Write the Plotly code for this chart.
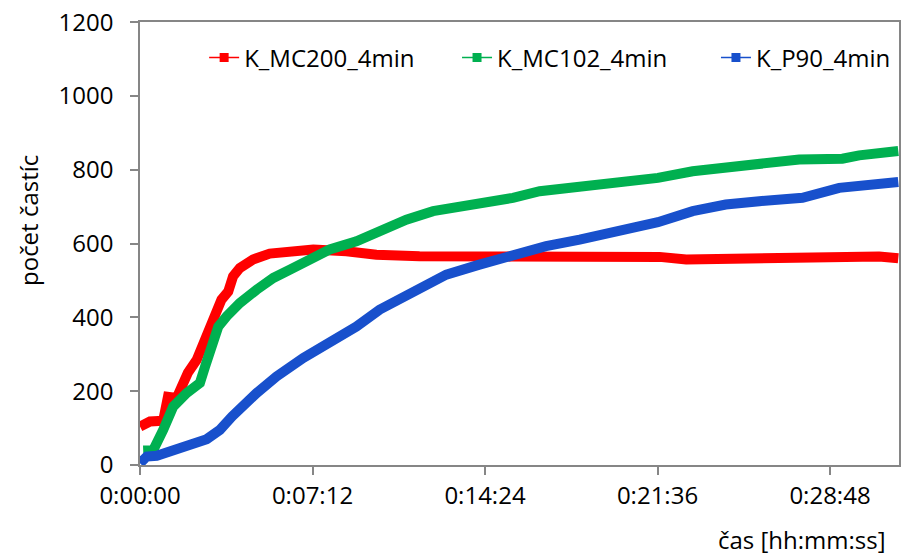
import plotly.graph_objects as go

# time in seconds
mc200_t = [0, 25, 58, 70, 92, 120, 142, 167, 188, 204, 221, 233, 250, 283, 325, 375, 434, 517, 592, 700, 858, 1051, 1200, 1301, 1368, 1451, 1551, 1651, 1751, 1851, 1899]
mc200_v = [104, 118, 120, 185, 182, 250, 285, 348, 412, 448, 470, 511, 534, 557, 573, 579, 584, 579, 570, 566, 564, 567, 566, 564, 557, 559, 560, 562, 563, 565, 560]

mc102_t = [8, 33, 58, 83, 117, 150, 163, 179, 196, 217, 250, 292, 334, 375, 425, 475, 542, 592, 667, 734, 850, 934, 1001, 1101, 1184, 1297, 1384, 1493, 1551, 1651, 1759, 1801, 1899]
mc102_v = [39, 40, 95, 158, 195, 222, 267, 330, 375, 403, 439, 475, 507, 529, 557, 584, 606, 629, 665, 688, 706, 724, 742, 754, 760, 778, 796, 810, 819, 828, 830, 839, 851]

p90_t = [0, 17, 42, 100, 167, 200, 230, 292, 342, 409, 475, 542, 600, 684, 767, 850, 934, 1017, 1101, 1184, 1297, 1384, 1467, 1551, 1659, 1751, 1834, 1899]
p90_v = [5, 23, 25, 45, 70, 95, 131, 195, 240, 290, 330, 375, 421, 466, 516, 543, 570, 593, 611, 629, 658, 688, 706, 715, 724, 751, 763, 767]

x_tickvals = [0, 432, 864, 1296, 1728]
x_ticktext = ["0:00:00", "0:07:12", "0:14:24", "0:21:36", "0:28:48"]
y_tickvals = [0, 200, 400, 600, 800, 1000, 1200]

series = [
    ("K_MC200_4min", mc200_t, mc200_v, "#FF0000", "legend", 0.0845, "left"),
    ("K_MC102_4min", mc102_t, mc102_v, "#00B050", "legend2", 0.4177, "left"),
    ("K_P90_4min", p90_t, p90_v, "#1850CC", "legend3", 0.996, "right"),
]

FONT = "Open Sans"
FS = 24
fig = go.Figure()
for name, t, v, c, lg, lx, la in series:
    fig.add_trace(go.Scatter(x=t, y=v, mode="lines", line=dict(color=c, width=10),
                             showlegend=False, hoverinfo="skip"))
for name, t, v, c, lg, lx, la in series:
    fig.add_trace(go.Scatter(x=[None], y=[None], mode="lines+markers", name=name,
                             legend=lg,
                             line=dict(color=c, width=1.5),
                             marker=dict(symbol="square", size=9, color=c)))

legend_common = dict(orientation="h", y=0.919, yanchor="middle",
                     font=dict(size=FS), bgcolor="rgba(0,0,0,0)")
fig.update_layout(
    width=901, height=558,
    margin=dict(l=140, r=2, t=22, b=93),
    paper_bgcolor="white", plot_bgcolor="white",
    font=dict(family=FONT, size=FS, color="#000000"),
    legend=dict(x=series[0][5], xanchor=series[0][6], **legend_common),
    legend2=dict(x=series[1][5], xanchor=series[1][6], **legend_common),
    legend3=dict(x=series[2][5], xanchor=series[2][6], **legend_common),
    xaxis=dict(range=[0, 1900.8], tickvals=x_tickvals, ticktext=x_ticktext,
               showgrid=False, zeroline=False, showline=True, linecolor="#868686",
               linewidth=1.5, mirror=True, ticks="outside", ticklen=8, tickcolor="#868686",
               tickwidth=1.5, tickfont=dict(size=FS), automargin=False),
    yaxis=dict(range=[0, 1200.5], tickvals=y_tickvals, showgrid=False, zeroline=False,
               showline=True, linecolor="#868686", linewidth=1.5, mirror=True,
               ticks="outside", ticklen=8, tickcolor="#868686", tickwidth=1.5,
               tickfont=dict(size=FS), ticklabelstandoff=12, automargin=False),
    annotations=[
        dict(text="počet častíc", xref="paper", yref="paper", x=-0.1476, y=0.553,
             textangle=-90, showarrow=False, xanchor="center", yanchor="middle",
             font=dict(size=FS)),
        dict(text="čas [hh:mm:ss]", xref="paper", yref="paper", x=0.9855, y=-0.169,
             showarrow=False, xanchor="right", yanchor="middle", font=dict(size=FS)),
    ],
)
fig.write_html("out.html", config={"displayModeBar": False},
               post_script="document.body.style.margin='0';document.body.style.overflow='hidden';")
